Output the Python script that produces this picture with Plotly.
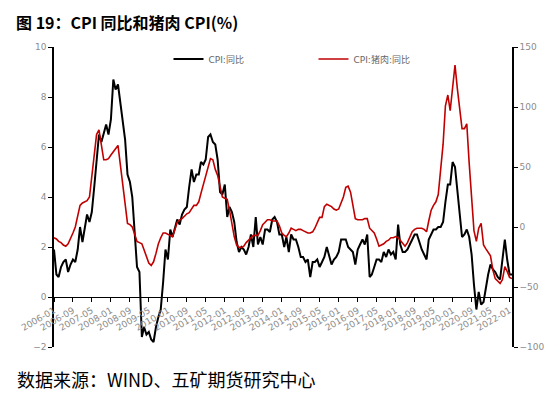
import pandas as pd
import plotly.graph_objects as go

months = pd.date_range("2006-01-01", "2022-02-01", freq="MS")

cpi_yoy = [
    1.9, 0.9, 0.8, 1.2, 1.4, 1.5, 1.0, 1.3, 1.5, 1.4, 1.9, 2.8,   # 2006
    2.2, 2.7, 3.3, 3.0, 3.4, 4.4, 5.6, 6.5, 6.2, 6.5, 6.9, 6.5,   # 2007
    7.1, 8.7, 8.3, 8.5, 7.7, 7.1, 6.3, 4.9, 4.6, 4.0, 2.4, 1.2,   # 2008
    1.0, -1.6, -1.2, -1.5, -1.4, -1.7, -1.8, -1.2, -0.8, -0.5, 0.6, 1.9,  # 2009
    1.5, 2.7, 2.4, 2.8, 3.1, 2.9, 3.3, 3.5, 3.6, 4.4, 5.1, 4.6,   # 2010
    4.9, 4.9, 5.4, 5.3, 5.5, 6.4, 6.5, 6.2, 6.1, 5.5, 4.2, 4.1,   # 2011
    4.5, 3.2, 3.6, 3.4, 3.0, 2.2, 1.8, 2.0, 1.9, 1.7, 2.0, 2.5,   # 2012
    2.0, 3.2, 2.1, 2.4, 2.1, 2.7, 2.7, 2.6, 3.1, 3.2, 3.0, 2.5,   # 2013
    2.5, 2.0, 2.4, 1.8, 2.5, 2.3, 2.3, 2.0, 1.6, 1.6, 1.4, 1.5,   # 2014
    0.8, 1.4, 1.4, 1.5, 1.2, 1.4, 1.6, 2.0, 1.6, 1.3, 1.5, 1.6,   # 2015
    1.8, 2.3, 2.3, 2.3, 2.0, 1.9, 1.8, 1.3, 1.9, 2.1, 2.3, 2.1,   # 2016
    2.5, 0.8, 0.9, 1.2, 1.5, 1.5, 1.4, 1.8, 1.6, 1.9, 1.7, 1.8,   # 2017
    1.5, 2.9, 2.1, 1.8, 1.8, 1.9, 2.1, 2.3, 2.5, 2.5, 2.2, 1.9,   # 2018
    1.7, 1.5, 2.3, 2.5, 2.7, 2.7, 2.8, 2.8, 3.0, 3.8, 4.5, 4.5,   # 2019
    5.4, 5.2, 4.3, 3.3, 2.4, 2.5, 2.7, 2.4, 1.7, 0.5, -0.5, 0.2,  # 2020
    -0.3, -0.2, 0.4, 0.9, 1.3, 1.1, 1.0, 0.8, 0.7, 1.5, 2.3, 1.5, # 2021
    0.9, 0.9,                                                     # 2022
]

pork_cpi_yoy = [
    -9, -10, -12, -13, -15, -16, -14, -10, -5, 0, 8, 18,          # 2006
    20, 21, 22, 25, 42, 60, 77, 81, 68, 56, 56, 57,               # 2007
    60, 63, 66, 68, 52, 35, 18, 3, 2, 0, -6, -12,                 # 2008
    -13, -14, -19, -25, -30, -32, -29, -22, -14, -9, -5, -5,      # 2009
    -6, -7, -8, -2, 4, 6, 7, 9, 11, 12, 15, 18,                   # 2010
    18, 21, 28, 35, 42, 50, 57, 56, 48, 43, 35, 25,               # 2011
    24, 23, 14, 3, -8, -15, -17, -17, -16, -13, -11, -9,          # 2012
    -7, -7, -7, -3, 2, 4, 6, 6, 5, 5, 5, 1,                       # 2013
    -5, -7, -8, -5, -1, -2, -3, -2, -2, -3, -4, -5,               # 2014
    -5, -4, -1, 3, 8, 8, 17, 19, 18, 17, 15, 14,                  # 2015
    15, 20, 25, 33, 34, 29, 18, 7, 6, 6, 6, 7,                    # 2016
    7, -1, -3, -5, -10, -16, -15, -14, -12, -11, -9, -9,          # 2017
    -8, -9, -11, -14, -16, -13, -9, -4, -2, -1, -1, -1,           # 2018
    -2, -4, 5, 14, 18, 21, 27, 47, 69, 101, 110, 97,              # 2019
    116, 135, 116, 97, 82, 82, 86, 53, 26, -3, -12, -1,           # 2020
    3, -15, -18, -21, -24, -36, -43, -45, -47, -44, -33, -37,     # 2021
    -42, -43,                                                     # 2022
]

left_ticks = [-2, 0, 2, 4, 6, 8, 10]
right_ticks = [-100, -50, 0, 50, 100, 150]

tick_font = dict(family="DejaVu Sans, Noto Sans CJK SC", size=9, color="#8C8C8C")

# page body has an 8px margin: figure is sized to fit the window
W, H = 549, 389
L, R, T, B = 45, 38, 39, 50
PW, PH = W - L - R, H - T - B

fig = go.Figure()
fig.add_trace(go.Scatter(
    x=months, y=cpi_yoy, name="CPI:同比", mode="lines",
    line=dict(color="#000000", width=2), yaxis="y",
))
fig.add_trace(go.Scatter(
    x=months, y=pork_cpi_yoy, name="CPI:猪肉:同比", mode="lines",
    line=dict(color="#C00000", width=1.6), yaxis="y2",
))

fig.update_layout(
    width=W, height=H,
    margin=dict(l=L, r=R, t=T, b=B),
    paper_bgcolor="white", plot_bgcolor="white",
    showlegend=True,
    legend=dict(
        orientation="h", x=0.25, y=1 - 12 / PH, xanchor="left", yanchor="middle",
        font=dict(family="DejaVu Sans, Noto Sans CJK SC", size=9, color="#666666"),
        entrywidth=100, entrywidthmode="pixels", bgcolor="rgba(0,0,0,0)",
    ),
    xaxis=dict(
        type="date", range=["2006-01-01", "2022-02-01"],
        tick0="2006-01-01", dtick="M8", tickformat="%Y-%m",
        tickangle=-30, tickfont=tick_font,
        showline=True, linecolor="#000000", linewidth=1,
        ticks="outside", ticklen=4, tickcolor="#000000",
        showgrid=False, zeroline=False,
        anchor="free", position=(0 - (-2)) / 12,
    ),
    yaxis=dict(
        range=[-2, 10], tickvals=left_ticks, tickfont=tick_font,
        showline=True, linecolor="#000000", linewidth=1.5,
        ticks="outside", ticklen=4, tickcolor="#000000",
        showgrid=False, zeroline=False,
    ),
    yaxis2=dict(
        range=[-100, 150], tickvals=right_ticks, tickfont=tick_font,
        overlaying="y", side="right",
        showline=True, linecolor="#000000", linewidth=1.5,
        ticks="outside", ticklen=4, tickcolor="#000000",
        showgrid=False, zeroline=False,
    ),
    annotations=[
        dict(text="<b>图 19：CPI 同比和猪肉 CPI(%)</b>", xref="paper", yref="paper",
             x=-(L - 5) / PW, y=1 + (T - 1) / PH, xanchor="left", yanchor="top",
             showarrow=False, borderpad=0,
             font=dict(family="Noto Sans CJK SC", size=16, color="#000000")),
        dict(text="数据来源：WIND、五矿期货研究中心", xref="paper", yref="paper",
             x=-(L - 5) / PW, y=-(371 - (T + PH)) / PH, xanchor="left", yanchor="middle",
             showarrow=False,
             font=dict(family="Noto Sans CJK SC", size=18, color="#000000")),
    ],
)

fig.write_html("out.html")
